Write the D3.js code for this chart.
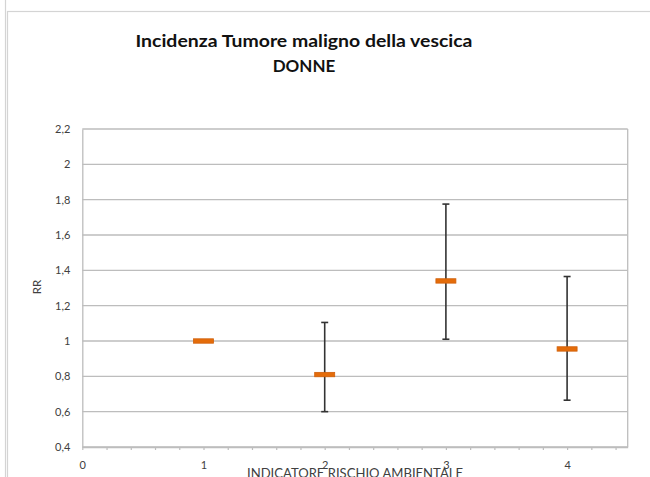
<!DOCTYPE html>
<html>
<head>
<meta charset="utf-8">
<script src="https://cdn.jsdelivr.net/npm/d3@7"></script>
<style>
  html, body { margin: 0; padding: 0; background: #fff; }
  svg { display: block; }
</style>
</head>
<body>
<script>
// Relative risk by environmental risk indicator (women)
const indicators = [1, 2, 3, 4];
const rr        = [1.00, 0.81, 1.34, 0.955];
const ciLower   = [1.00, 0.60, 1.01, 0.665];
const ciUpper   = [1.00, 1.105, 1.775, 1.365];
const yTicks    = [0.4, 0.6, 0.8, 1, 1.2, 1.4, 1.6, 1.8, 2, 2.2];
const xLabels   = [0, 1, 2, 3, 4];
const titleLines = ["Incidenza Tumore maligno della vescica", "DONNE"];
const xTitle = "INDICATORE RISCHIO AMBIENTALE";
const yTitle = "RR";

const W = 650, H = 477;
const plot = { left: 82.3, right: 627.7, top: 129, bottom: 447 };

const svg = d3.select("body").append("svg")
  .attr("width", W).attr("height", H);

// Outer chart frame
svg.append("line").attr("x1", 5.5).attr("x2", 5.5).attr("y1", 0).attr("y2", H)
  .attr("stroke", "#d4d4d4").attr("stroke-width", 1.2);
svg.append("rect").attr("x", 7.5).attr("y", 11.5).attr("width", W).attr("height", H)
  .attr("fill", "none").attr("stroke", "#d4d4d4").attr("stroke-width", 1.2);

const x = d3.scaleLinear().domain([0, 4.5]).range([plot.left, plot.right]);
const y = d3.scaleLinear().domain([0.4, 2.2]).range([plot.bottom, plot.top]);

const fmt = v => d3.format("~g")(+v.toFixed(1)).replace(".", ",");
const font = "Lato, 'Open Sans', sans-serif";

// Horizontal gridlines
svg.append("g").selectAll("line").data(yTicks).join("line")
  .attr("x1", plot.left).attr("x2", plot.right)
  .attr("y1", d => y(d)).attr("y2", d => y(d))
  .attr("stroke", "#bdbdbd").attr("stroke-width", 1.3);

// Right border of the plot area
svg.append("line").attr("x1", plot.right).attr("x2", plot.right)
  .attr("y1", plot.top).attr("y2", plot.bottom)
  .attr("stroke", "#bdbdbd").attr("stroke-width", 1.3);

// Y axis
const yAxis = svg.append("g").attr("transform", `translate(${plot.left},0)`)
  .call(d3.axisLeft(y).tickValues(yTicks).tickSize(0).tickPadding(12).tickFormat(fmt));
yAxis.select(".domain").attr("stroke", "#bdbdbd").attr("stroke-width", 1.3);
yAxis.selectAll("text").attr("fill", "#404040").style("font-family", font).style("font-size", "11px");

// X axis: minor ticks every 0.2, labels on whole numbers
const minor = d3.range(0, 4.41, 0.2).map(v => +v.toFixed(1));
const xAxis = svg.append("g").attr("transform", `translate(0,${plot.bottom})`)
  .call(d3.axisBottom(x).tickValues(minor).tickSizeInner(3).tickSizeOuter(0).tickPadding(11)
    .tickFormat(d => xLabels.includes(d) ? String(d) : ""));
xAxis.select(".domain").attr("stroke", "#bdbdbd").attr("stroke-width", 1.3);
xAxis.selectAll(".tick line").attr("stroke", "#bdbdbd").attr("stroke-width", 1.2);
xAxis.selectAll("text").attr("fill", "#404040").style("font-family", font).style("font-size", "11px");

// Error bars
const data = indicators.map((d, i) => ({ x: d, rr: rr[i], lo: ciLower[i], hi: ciUpper[i] }));
const bars = data.filter(d => d.hi > d.lo);
const eb = svg.append("g").attr("stroke", "#333").attr("stroke-width", 1.6);
eb.selectAll(".stem").data(bars).join("line").attr("class", "stem")
  .attr("x1", d => x(d.x)).attr("x2", d => x(d.x))
  .attr("y1", d => y(d.lo)).attr("y2", d => y(d.hi));
eb.selectAll(".capHi").data(bars).join("line").attr("class", "capHi")
  .attr("x1", d => x(d.x) - 3.5).attr("x2", d => x(d.x) + 3.5)
  .attr("y1", d => y(d.hi)).attr("y2", d => y(d.hi));
eb.selectAll(".capLo").data(bars).join("line").attr("class", "capLo")
  .attr("x1", d => x(d.x) - 3.5).attr("x2", d => x(d.x) + 3.5)
  .attr("y1", d => y(d.lo)).attr("y2", d => y(d.lo));

// Point estimates (dash markers)
svg.append("g").selectAll("rect").data(data).join("rect")
  .attr("x", d => x(d.x) - 10).attr("y", d => y(d.rr) - 2.2)
  .attr("width", 20).attr("height", 4.4)
  .attr("fill", "#e46c0a").attr("stroke", "#d0600a").attr("stroke-width", 0.8);

// Titles
const t = svg.append("text").attr("text-anchor", "middle")
  .attr("fill", "#111").style("font-family", font).style("font-weight", "700").style("font-size", "17px");
t.append("tspan").attr("x", 304).attr("y", 47)
  .attr("textLength", 337).attr("lengthAdjust", "spacingAndGlyphs").text(titleLines[0]);
t.append("tspan").attr("x", 304).attr("y", 72).text(titleLines[1]);

svg.append("text").attr("x", (plot.left + plot.right) / 2).attr("y", 478)
  .attr("text-anchor", "middle").attr("fill", "#404040")
  .style("font-family", font).style("font-size", "12.5px")
  .attr("textLength", 216).attr("lengthAdjust", "spacingAndGlyphs").text(xTitle);

svg.append("text").attr("transform", "translate(41,287) rotate(-90)")
  .attr("text-anchor", "middle").attr("fill", "#404040")
  .style("font-family", font).style("font-size", "11.5px").text(yTitle);
</script>
</body>
</html>
